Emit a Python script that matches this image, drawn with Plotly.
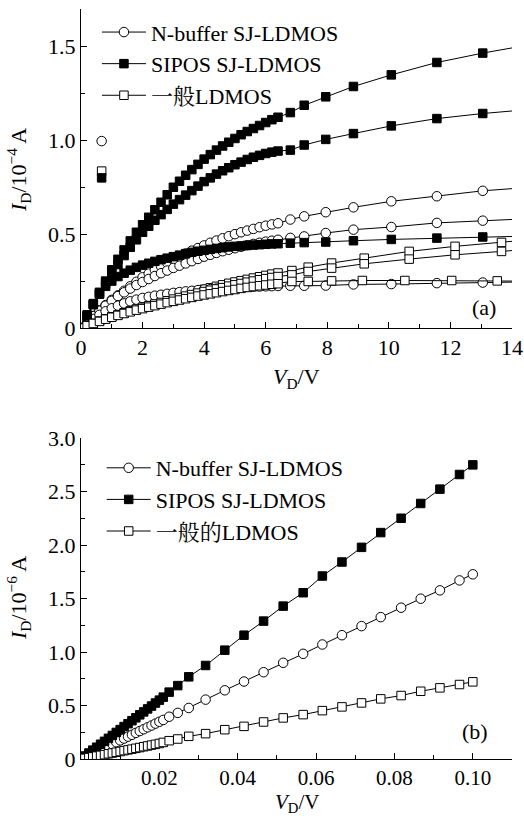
import plotly.graph_objects as go

# ---------------- (a) output characteristics, VD 0..14 V ----------------
xa_dense = [0, 0.2, 0.4, 0.6, 0.8, 1.0, 1.2, 1.4, 1.6, 1.8, 2.0, 2.2, 2.4, 2.6, 2.8, 3.0, 3.2,
            3.4, 3.6, 3.8, 4.0, 4.2, 4.4, 4.6, 4.8, 5.0, 5.2, 5.4, 5.6, 5.8, 6.0, 6.2, 6.4]
xa_tail = [6.8, 7.25, 7.95, 8.85, 10.08, 11.56, 13.05, 14.6]
xg_tail = [6.85, 7.38, 8.14, 9.2, 10.66, 12.15, 13.66, 15.1]
xg3_tail = [6.85, 7.38, 8.14, 9.14, 10.52, 12.04, 13.52, 15.0]

sipos_a1 = [0, 0.07, 0.13, 0.19, 0.25, 0.31, 0.366, 0.416, 0.464, 0.51, 0.55, 0.59, 0.63, 0.67,
            0.71, 0.75, 0.782, 0.814, 0.844, 0.872, 0.90, 0.924, 0.948, 0.97, 0.99, 1.01, 1.03,
            1.047, 1.063, 1.079, 1.095, 1.11, 1.123]
sipos_a1_tail = [1.148, 1.187, 1.232, 1.287, 1.349, 1.415, 1.465, 1.51]
sipos_a2 = [0, 0.065, 0.125, 0.183, 0.238, 0.29, 0.338, 0.386, 0.43, 0.47, 0.51, 0.542, 0.574,
            0.604, 0.632, 0.66, 0.684, 0.708, 0.732, 0.756, 0.78, 0.80, 0.82, 0.838, 0.854, 0.87,
            0.884, 0.898, 0.91, 0.92, 0.93, 0.937, 0.943]
sipos_a2_tail = [0.948, 0.975, 1.005, 1.036, 1.077, 1.116, 1.143, 1.165]
sipos_a3 = [0, 0.065, 0.125, 0.18, 0.222, 0.25, 0.274, 0.292, 0.308, 0.323, 0.335, 0.345, 0.355,
            0.364, 0.372, 0.38, 0.388, 0.396, 0.403, 0.409, 0.414, 0.419, 0.424, 0.428, 0.432,
            0.435, 0.437, 0.44, 0.442, 0.444, 0.446, 0.448, 0.449]
sipos_a3_tail = [0.452, 0.455, 0.458, 0.465, 0.472, 0.479, 0.485, 0.49]

nbuf_a1 = [0, 0.032, 0.064, 0.094, 0.122, 0.15, 0.174, 0.198, 0.222, 0.246, 0.27, 0.29, 0.31,
           0.329, 0.347, 0.365, 0.381, 0.397, 0.412, 0.426, 0.44, 0.454, 0.466, 0.478, 0.489,
           0.50, 0.51, 0.519, 0.528, 0.537, 0.545, 0.552, 0.558]
nbuf_a1_tail = [0.578, 0.595, 0.617, 0.643, 0.675, 0.702, 0.731, 0.75]
nbuf_a2 = [0, 0.032, 0.063, 0.092, 0.119, 0.145, 0.17, 0.19, 0.21, 0.229, 0.245, 0.261, 0.277,
           0.292, 0.306, 0.32, 0.332, 0.344, 0.356, 0.368, 0.38, 0.39, 0.40, 0.409, 0.417, 0.425,
           0.433, 0.441, 0.448, 0.454, 0.46, 0.465, 0.47]
nbuf_a2_tail = [0.480, 0.488, 0.506, 0.524, 0.538, 0.560, 0.572, 0.583]
nbuf_a3 = [0, 0.024, 0.048, 0.07, 0.089, 0.105, 0.119, 0.131, 0.142, 0.151, 0.16, 0.166, 0.172,
           0.177, 0.182, 0.187, 0.191, 0.195, 0.198, 0.202, 0.205, 0.207, 0.21, 0.212, 0.214,
           0.216, 0.217, 0.219, 0.22, 0.221, 0.222, 0.223, 0.224]
nbuf_a3_tail = [0.225, 0.225, 0.226, 0.232, 0.234, 0.239, 0.242, 0.246]

gen_a1 = [0, 0.013, 0.026, 0.038, 0.05, 0.062, 0.073, 0.084, 0.095, 0.106, 0.116, 0.126, 0.135,
          0.145, 0.154, 0.164, 0.173, 0.182, 0.19, 0.198, 0.206, 0.214, 0.222, 0.23, 0.238,
          0.245, 0.252, 0.259, 0.266, 0.273, 0.28, 0.287, 0.293]
gen_a1_tail = [0.306, 0.324, 0.346, 0.372, 0.408, 0.435, 0.456, 0.478]
gen_a2 = [0, 0.013, 0.025, 0.037, 0.049, 0.06, 0.07, 0.081, 0.091, 0.101, 0.11, 0.119, 0.128,
          0.136, 0.145, 0.154, 0.162, 0.17, 0.178, 0.186, 0.194, 0.201, 0.208, 0.215, 0.223,
          0.23, 0.237, 0.244, 0.25, 0.257, 0.263, 0.269, 0.274]
gen_a2_tail = [0.283, 0.301, 0.319, 0.342, 0.367, 0.390, 0.408, 0.427]
gen_a3 = [0, 0.012, 0.024, 0.035, 0.047, 0.057, 0.067, 0.077, 0.086, 0.095, 0.103, 0.111, 0.119,
          0.127, 0.135, 0.142, 0.149, 0.156, 0.163, 0.17, 0.176, 0.182, 0.188, 0.194, 0.2,
          0.205, 0.211, 0.216, 0.221, 0.225, 0.229, 0.233, 0.236]
gen_a3_tail = [0.248, 0.248, 0.251, 0.253, 0.253, 0.253, 0.251, 0.249]

# isolated markers near VD = 0.67 V
stray_x = [0.67]
stray_nbuf = [0.996]
stray_gen = [0.836]
stray_sipos = [0.80]

# ---------------- (b) linear region, VD 0..0.1 V ----------------
xb_dense = [0, 0.001, 0.002, 0.003, 0.004, 0.005, 0.006, 0.007, 0.008, 0.009, 0.010,
            0.011, 0.012, 0.013, 0.014, 0.015, 0.016, 0.017, 0.018, 0.019, 0.020, 0.021]
xb_tail = [0.0225, 0.0247, 0.0275, 0.0318, 0.0367, 0.0416, 0.0466, 0.0516, 0.0567,
           0.0616, 0.0666, 0.0716, 0.0765, 0.0817, 0.0867, 0.0916, 0.0966, 0.1]

sipos_b = [0, 0.028, 0.056, 0.083, 0.11, 0.138, 0.165, 0.193, 0.22, 0.248, 0.275,
           0.303, 0.33, 0.358, 0.385, 0.413, 0.44, 0.468, 0.495, 0.523, 0.55, 0.578]
sipos_b_tail = [0.625, 0.686, 0.768, 0.874, 1.017, 1.157, 1.289, 1.429, 1.554,
                1.710, 1.841, 1.978, 2.116, 2.250, 2.388, 2.522, 2.659, 2.749]
nbuf_b = [0, 0.017, 0.035, 0.052, 0.07, 0.087, 0.104, 0.122, 0.139, 0.157, 0.174,
          0.191, 0.209, 0.226, 0.244, 0.261, 0.278, 0.296, 0.313, 0.331, 0.348, 0.365]
nbuf_b_tail = [0.395, 0.431, 0.477, 0.555, 0.642, 0.724, 0.811, 0.899, 0.983,
               1.070, 1.157, 1.242, 1.326, 1.414, 1.498, 1.576, 1.669, 1.726]
gen_b = [0, 0.006, 0.013, 0.02, 0.027, 0.034, 0.041, 0.049, 0.056, 0.063, 0.07,
         0.078, 0.085, 0.092, 0.1, 0.107, 0.115, 0.122, 0.13, 0.137, 0.145, 0.155]
gen_b_tail = [0.171, 0.187, 0.212, 0.237, 0.274, 0.305, 0.346, 0.384, 0.415,
              0.452, 0.487, 0.524, 0.562, 0.593, 0.633, 0.665, 0.696, 0.721]

labels_a = ["N-buffer SJ-LDMOS", "SIPOS SJ-LDMOS", "一般LDMOS"]
labels_b = ["N-buffer SJ-LDMOS", "SIPOS SJ-LDMOS", "一般的LDMOS"]
xa_ticks = [0, 2, 4, 6, 8, 10, 12, 14]
ya_ticks = [0, 0.5, 1.0, 1.5]
ya_text = ["0", "0.5", "1.0", "1.5"]
xb_ticks = [0.02, 0.04, 0.06, 0.08, 0.10]
xb_text = ["0.02", "0.04", "0.06", "0.08", "0.10"]
yb_ticks = [0, 0.5, 1.0, 1.5, 2.0, 2.5, 3.0]
yb_text = ["0", "0.5", "1.0", "1.5", "2.0", "2.5", "3.0"]

FONT = '"Liberation Serif", "Noto Serif CJK SC", "Noto Sans CJK SC", serif'
BLACK = "#000000"
FS = 22

STY = {
    "nbuf": dict(symbol="circle", size=9.5, color="white", line=dict(color=BLACK, width=1)),
    "sipos": dict(symbol="square", size=8.5, color=BLACK, line=dict(color=BLACK, width=1)),
    "gen": dict(symbol="square", size=8.5, color="white", line=dict(color=BLACK, width=1)),
}

fig = go.Figure()


def add(x, y, kind, name, show, xa, ya, legend, mode="lines+markers"):
    fig.add_trace(go.Scatter(
        x=x, y=y, mode=mode, name=name, showlegend=show, legend=legend,
        legendgroup=legend + kind, xaxis=xa, yaxis=ya,
        line=dict(color=BLACK, width=1), marker=STY[kind]))


add(xa_dense + xa_tail, nbuf_a1 + nbuf_a1_tail, "nbuf", labels_a[0], True, "x", "y", "legend")
add(xa_dense + xa_tail, sipos_a1 + sipos_a1_tail, "sipos", labels_a[1], True, "x", "y", "legend")
add(xa_dense + xg_tail, gen_a1 + gen_a1_tail, "gen", labels_a[2], True, "x", "y", "legend")
add(xa_dense + xa_tail, nbuf_a2 + nbuf_a2_tail, "nbuf", labels_a[0], False, "x", "y", "legend")
add(xa_dense + xa_tail, nbuf_a3 + nbuf_a3_tail, "nbuf", labels_a[0], False, "x", "y", "legend")
add(xa_dense + xa_tail, sipos_a2 + sipos_a2_tail, "sipos", labels_a[1], False, "x", "y", "legend")
add(xa_dense + xa_tail, sipos_a3 + sipos_a3_tail, "sipos", labels_a[1], False, "x", "y", "legend")
add(xa_dense + xg_tail, gen_a2 + gen_a2_tail, "gen", labels_a[2], False, "x", "y", "legend")
add(xa_dense + xg3_tail, gen_a3 + gen_a3_tail, "gen", labels_a[2], False, "x", "y", "legend")
add(stray_x, stray_nbuf, "nbuf", labels_a[0], False, "x", "y", "legend", mode="markers")
add(stray_x, stray_gen, "gen", labels_a[2], False, "x", "y", "legend", mode="markers")
add(stray_x, stray_sipos, "sipos", labels_a[1], False, "x", "y", "legend", mode="markers")

add(xb_dense + xb_tail, nbuf_b + nbuf_b_tail, "nbuf", labels_b[0], True, "x2", "y2", "legend2")
add(xb_dense + xb_tail, sipos_b + sipos_b_tail, "sipos", labels_b[1], True, "x2", "y2", "legend2")
add(xb_dense + xb_tail, gen_b + gen_b_tail, "gen", labels_b[2], True, "x2", "y2", "legend2")

tickfont = dict(family=FONT, size=FS, color=BLACK)
common = dict(showgrid=False, zeroline=False, showline=True, linecolor=BLACK, linewidth=1.2,
              ticks="inside", tickcolor=BLACK, tickwidth=1, ticklen=6, tickfont=tickfont,
              automargin=False)
frame = dict(showgrid=False, zeroline=False, showline=True, linecolor=BLACK, linewidth=1.2,
             ticks="inside", tickcolor=BLACK, tickwidth=1, ticklen=6, showticklabels=False,
             automargin=False, range=[0, 10], tickmode="linear", tick0=0, dtick=2,
             minor=dict(ticks="inside", ticklen=4, tickcolor=BLACK, dtick=1, tick0=0))

top_dom = [0.5747, 1.0]
bot_dom = [0.0, 0.428]
afont = dict(family=FONT, size=FS, color=BLACK)
bfont = dict(family=FONT, size=21, color=BLACK)

fig.update_layout(
    template="none",
    width=524, height=816,
    margin=dict(l=81, r=12, t=9, b=57, autoexpand=False),
    paper_bgcolor="white", plot_bgcolor="white",
    font=dict(family=FONT, color=BLACK, size=FS),
    xaxis=dict(common, domain=[0, 1], anchor="y", range=[0, 14], tickvals=xa_ticks,
               minor=dict(ticks="inside", ticklen=4, tickcolor=BLACK, dtick=1, tick0=0)),
    yaxis=dict(common, domain=top_dom, anchor="x", range=[0, 1.70], tickvals=ya_ticks, ticktext=ya_text,
               minor=dict(ticks="inside", ticklen=4, tickcolor=BLACK, dtick=0.25, tick0=0)),
    xaxis3=dict(frame, overlaying="x", anchor="y", side="top"),
    yaxis3=dict(frame, overlaying="y", anchor="x", side="right"),
    xaxis2=dict(common, domain=[0, 1], anchor="y2", range=[0, 0.110], tickvals=xb_ticks, ticktext=xb_text,
                tickfont=bfont,
                minor=dict(ticks="inside", ticklen=4, tickcolor=BLACK, dtick=0.01, tick0=0)),
    yaxis2=dict(common, domain=bot_dom, anchor="x2", range=[0, 3.0], tickvals=yb_ticks, ticktext=yb_text,
                minor=dict(ticks="inside", ticklen=4, tickcolor=BLACK, dtick=0.25, tick0=0)),
    xaxis4=dict(frame, overlaying="x2", anchor="y2", side="top"),
    yaxis4=dict(frame, overlaying="y2", anchor="x2", side="right"),
    legend=dict(x=0.037, y=0.997, xanchor="left", yanchor="top", bgcolor="rgba(0,0,0,0)",
                font=afont, tracegroupgap=0, itemwidth=44),
    legend2=dict(x=0.048, y=0.416, xanchor="left", yanchor="top", bgcolor="rgba(0,0,0,0)",
                 font=afont, tracegroupgap=0, itemwidth=44),
    annotations=[
        dict(text="(a)", x=13.1, y=0.107, xref="x", yref="y", showarrow=False, font=afont),
        dict(text="(b)", x=0.1005, y=0.26, xref="x2", yref="y2", showarrow=False, font=afont),
        dict(text="<i>V</i><sub>D</sub>/V", x=0.5, y=(759 - 378) / 750, xref="paper", yref="paper",
             showarrow=False, yanchor="middle", font=afont),
        dict(text="<i>V</i><sub>D</sub>/V", x=0.5, y=(759 - 803) / 750, xref="paper", yref="paper",
             showarrow=False, yanchor="middle", font=bfont),
        dict(text="<i>I</i><sub>D</sub>/10<sup>−4</sup> A", x=(18 - 81) / 431, y=(759 - 170) / 750,
             xref="paper", yref="paper", showarrow=False, textangle=-90, xanchor="center",
             yanchor="middle", font=afont),
        dict(text="<i>I</i><sub>D</sub>/10<sup>−6</sup> A", x=(18 - 81) / 431, y=(759 - 598) / 750,
             xref="paper", yref="paper", showarrow=False, textangle=-90, xanchor="center",
             yanchor="middle", font=afont),
    ],
)

fig.write_html("out.html", config={"displayModeBar": False},
               post_script="document.body.style.margin='0px';")
